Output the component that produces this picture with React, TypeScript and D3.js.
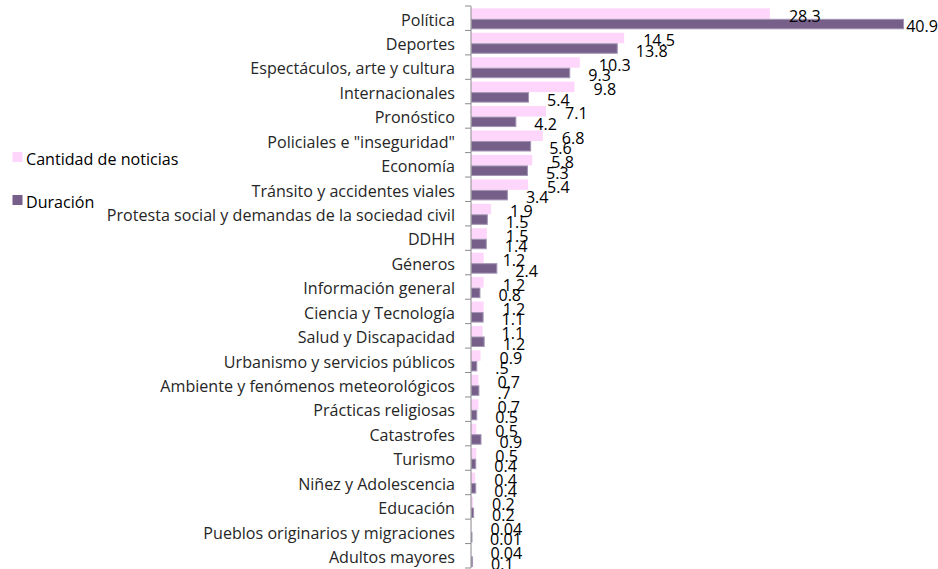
import React, { useEffect, useRef } from "react";
import * as d3 from "d3";

const categories: string[] = [
  "Política",
  "Deportes",
  "Espectáculos, arte y cultura",
  "Internacionales",
  "Pronóstico",
  "Policiales e \"inseguridad\"",
  "Economía",
  "Tránsito y accidentes viales",
  "Protesta social y demandas de la sociedad civil",
  "DDHH",
  "Géneros",
  "Información general",
  "Ciencia y Tecnología",
  "Salud y Discapacidad",
  "Urbanismo y servicios públicos",
  "Ambiente y fenómenos meteorológicos",
  "Prácticas religiosas",
  "Catastrofes",
  "Turismo",
  "Niñez y Adolescencia",
  "Educación",
  "Pueblos originarios y migraciones",
  "Adultos mayores",
];

const cantidad: number[] = [28.3, 14.5, 10.3, 9.8, 7.1, 6.8, 5.8, 5.4, 1.9, 1.5, 1.2, 1.2, 1.2, 1.1, 0.9, 0.7, 0.7, 0.5, 0.5, 0.4, 0.2, 0.04, 0.04];
const duracion: number[] = [40.9, 13.8, 9.3, 5.4, 4.2, 5.6, 5.3, 3.4, 1.5, 1.4, 2.4, 0.8, 1.1, 1.2, 0.5, 0.7, 0.5, 0.9, 0.4, 0.4, 0.2, 0.01, 0.1];
const cantidadLabels: string[] = ["28.3", "14.5", "10.3", "9.8", "7.1", "6.8", "5.8", "5.4", "1.9", "1.5", "1.2", "1.2", "1.2", "1.1", "0.9", "0.7", "0.7", "0.5", "0.5", "0.4", "0.2", "0.04", "0.04"];
const duracionLabels: string[] = ["40.9", "13.8", "9.3", "5.4", "4.2", "5.6", "5.3", "3.4", "1.5", "1.4", "2.4", "0.8", "1.1", "1.2", ".5", ".7", "0.5", "0.9", "0.4", "0.4", "0.2", "0.01", "0.1"];
const seriesNames: string[] = ["Cantidad de noticias", "Duración"];

const W = 938;
const H = 569;
const FONT = "'Open Sans', sans-serif";
const FS = 16.1;
const PINK = "#FFD6FB";
const PURPLE = "#76608A";

export default function App() {
  const ref = useRef<SVGSVGElement | null>(null);

  useEffect(() => {
    const svg = d3.select(ref.current);
    svg.selectAll("*").remove();

    const axisX = 471;
    const top = 6;
    const bottom = 568;

    const y = d3.scaleBand<string>().domain(categories).range([top, bottom]).paddingInner(0).paddingOuter(0);
    const x = d3.scaleLinear().domain([0, 40.9]).range([axisX, 903]);
    const bw = y.bandwidth();
    const inner = d3.scaleBand<string>().domain(seriesNames).range([2.3, bw - 1.1]).padding(0);
    const ih = inner.bandwidth();

    const g = svg.append("g");

    categories.forEach((c, i) => {
      const y0 = y(c)!;
      g.append("rect")
        .attr("x", axisX)
        .attr("y", y0 + inner(seriesNames[0])!)
        .attr("width", Math.max(0, x(cantidad[i]) - axisX))
        .attr("height", ih)
        .attr("fill", PINK);
      g.append("rect")
        .attr("x", axisX + 0.5)
        .attr("y", y0 + inner(seriesNames[1])! + 0.5)
        .attr("width", Math.max(0.5, x(duracion[i]) - axisX))
        .attr("height", ih - 1)
        .attr("fill", PURPLE)
        .attr("stroke", "#A595B5")
        .attr("stroke-width", 1);
    });

    g.append("line")
      .attr("x1", axisX).attr("x2", axisX)
      .attr("y1", top).attr("y2", bottom)
      .attr("stroke", "#8C8C8C").attr("stroke-width", 1);
    const tickYs = categories.map((c) => y(c)!).concat([bottom]);
    g.selectAll("line.tick")
      .data(tickYs)
      .enter()
      .append("line")
      .attr("class", "tick")
      .attr("x1", axisX - 6).attr("x2", axisX)
      .attr("y1", (d) => d).attr("y2", (d) => d)
      .attr("stroke", "#8C8C8C").attr("stroke-width", 1);

    g.selectAll("text.cat")
      .data(categories)
      .enter()
      .append("text")
      .attr("class", "cat")
      .attr("x", 455)
      .attr("y", (d) => y(d)! + bw / 2 + 7.3)
      .attr("text-anchor", "end")
      .attr("font-family", FONT)
      .attr("font-size", FS)
      .attr("fill", "#262626")
      .text((d) => d);

    const addLabel = (val: number, label: string, cy: number) => {
      const t = g.append("text")
        .attr("x", x(val) + 19)
        .attr("y", cy + 8.2)
        .attr("font-family", FONT)
        .attr("font-size", FS)
        .attr("fill", "#000")
        .text(label);
      const node = t.node() as SVGTextElement;
      const w = node.getComputedTextLength();
      if (x(val) + 19 + w > W) {
        t.attr("x", W).attr("text-anchor", "end");
      }
    };
    categories.forEach((c, i) => {
      const y0 = y(c)!;
      addLabel(cantidad[i], cantidadLabels[i], y0 + inner(seriesNames[0])! + ih / 2);
      addLabel(duracion[i], duracionLabels[i], y0 + inner(seriesNames[1])! + ih / 2);
    });

    const legend = svg.append("g");
    const legendYs = [152, 195];
    const colors = [PINK, PURPLE];
    seriesNames.forEach((s, i) => {
      legend.append("rect")
        .attr("x", 12.5).attr("y", legendYs[i])
        .attr("width", 10).attr("height", 10)
        .attr("fill", colors[i]);
      legend.append("text")
        .attr("x", 26).attr("y", legendYs[i] + 13)
        .attr("font-family", FONT)
        .attr("font-size", FS)
        .attr("fill", "#000")
        .text(s);
    });
  }, []);

  return (
    <svg
      ref={ref}
      width={W}
      height={H}
      style={{ position: "absolute", left: 0, top: 0, background: "#fff" }}
    />
  );
}
